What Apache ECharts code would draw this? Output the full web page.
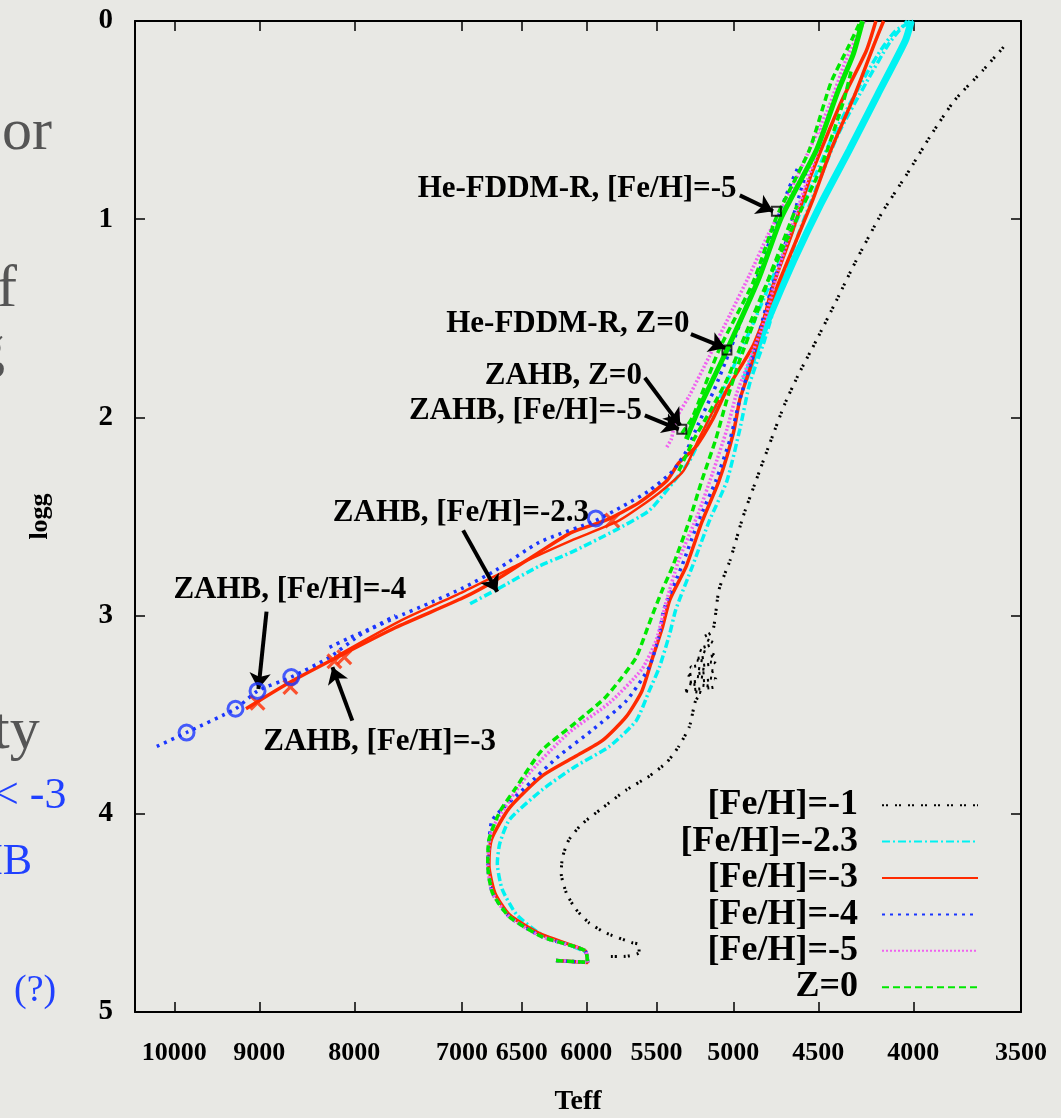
<!DOCTYPE html>
<html>
<head>
<meta charset="utf-8">
<script src="https://cdn.jsdelivr.net/npm/echarts@6/dist/echarts.min.js"></script>
<style>
html, body { margin: 0; padding: 0; background: #e8e8e4; }
#chart { width: 1061px; height: 1118px; }
</style>
</head>
<body>
<div id="chart"></div>
<script>
// Axis ticks
const teffTicks = [10000, 9000, 8000, 7000, 6500, 6000, 5500, 5000, 4500, 4000, 3500];
const loggTicks = [0, 1, 2, 3, 4, 5];

// Series names (legend order)
const names = ['[Fe/H]=-1', '[Fe/H]=-2.3', '[Fe/H]=-3', '[Fe/H]=-4', '[Fe/H]=-5', 'Z=0'];

// Evolutionary tracks, [Teff, logg]
const feh1Track = [
  [5820,4.72],[5730,4.72],[5620,4.70],[5620,4.66],[5670,4.65],[5860,4.60],[5980,4.55],[6080,4.48],
  [6150,4.40],[6190,4.30],[6180,4.22],[6130,4.13],[6030,4.05],[5880,3.97],[5710,3.88],[5550,3.81],
  [5430,3.74],[5350,3.66],[5280,3.56],[5240,3.43],
  [5200,3.39],[5310,3.38],[5120,3.36],[5300,3.34],[5110,3.32],[5290,3.30],[5120,3.28],[5270,3.26],
  [5110,3.24],[5250,3.22],[5120,3.20],[5220,3.17],[5120,3.14],[5190,3.11],[5130,3.08],
  [5090,2.87],[5020,2.72],[4940,2.50],[4840,2.27],[4770,2.11],[4690,1.93],[4610,1.78],[4510,1.61],
  [4400,1.41],[4300,1.22],[4160,0.97],[4030,0.77],[3910,0.57],[3800,0.40],[3670,0.25],[3560,0.11]
];

const feh23Track = [
  [6230,4.74],[5990,4.75],[6000,4.70],[6340,4.61],[6540,4.51],[6660,4.38],[6700,4.25],[6680,4.15],
  [6600,4.03],[6340,3.88],[6080,3.76],[5830,3.66],[5640,3.53],[5550,3.38],[5480,3.26],[5410,3.09],
  [5370,2.97],[5260,2.75],[5150,2.52],[5040,2.32],[4960,2.06],[4900,1.83],[4810,1.61],[4740,1.41],
  [4610,1.07],[4510,0.84],[4390,0.57],[4240,0.31],[4120,0.11],[4030,0.00]
];
const feh23HB = [
  [6930,2.94],[6710,2.87],[6360,2.75],[6110,2.68],[5790,2.57],[5550,2.47],[5390,2.33],[5280,2.22],
  [5180,2.06],[5090,1.91],[4980,1.71],[4870,1.51],[4770,1.31],[4670,1.11],[4550,0.85],[4430,0.60],
  [4300,0.37],[4180,0.17],[4090,0.05],[4000,0.00]
];
const feh23Band = [[4930,1.81],[4790,1.51],[4640,1.21],[4490,0.93],[4330,0.65],[4180,0.37],[4040,0.10],[4010,0.00]];

const feh3Track = [
  [6230,4.74],[5990,4.75],[6010,4.69],[6340,4.61],[6600,4.51],[6720,4.40],[6770,4.26],[6750,4.13],
  [6600,3.97],[6340,3.81],[6080,3.71],[5880,3.63],[5710,3.51],[5600,3.38],[5530,3.22],[5460,3.06],
  [5410,2.92],[5300,2.75],[5200,2.53],[5090,2.32],[5000,2.08],[4960,1.91],[4900,1.76],[4800,1.46],
  [4770,1.36],[4650,1.07],[4550,0.80],[4480,0.64],[4370,0.40],[4240,0.15],[4190,0.00]
];
const feh3HB = [
  [9150,3.47],[8680,3.34],[8250,3.23],[7600,3.06],[6990,2.91],[6710,2.82],[6360,2.68],[6110,2.58],
  [5860,2.52],[5620,2.43],[5430,2.32],[5350,2.23],[5240,2.15],[5130,2.01],[5040,1.86],[4880,1.64],
  [4770,1.41],[4650,1.16],[4530,0.90],[4430,0.65],[4300,0.37],[4200,0.12],[4150,0.00]
];
const feh3HB2 = [[8200,3.21],[7570,3.03],[6990,2.88],[6520,2.74],[6110,2.62],[5760,2.52],[5480,2.38],[5320,2.27],[5220,2.11],[5090,1.91]];
const feh3Zahb = [[9020,3.44],[8660,3.36],[8200,3.23],[8100,3.21],[5810,2.52]];

const feh4Track = [
  [6230,4.74],[5990,4.75],[6010,4.69],[6340,4.62],[6600,4.52],[6740,4.40],[6780,4.26],[6770,4.15],
  [6740,4.03],[6460,3.86],[6210,3.71],[5960,3.58],[5710,3.43],[5550,3.26],[5480,3.09],[5450,2.97],
  [5330,2.75],[5220,2.52],[5110,2.32],[5020,2.11],[4960,1.91],[4870,1.66],[4790,1.41],[4700,1.16],
  [4630,0.95],[4570,0.77]
];
const feh4HB = [
  [10220,3.66],[9850,3.59],[9270,3.47],[9020,3.38],[8650,3.31],[8250,3.21],[7920,3.09],[7600,3.01],
  [7300,2.94],[6990,2.86],[6710,2.77],[6360,2.63],[5930,2.52],[5740,2.45],[5550,2.37],[5390,2.27],
  [5300,2.17],[5220,2.03],[5120,1.86],[5020,1.66],[4930,1.46],[4840,1.26],[4760,1.06],[4670,0.85],[4610,0.73]
];
const feh4HB2 = [[8250,3.16],[8040,3.11],[7820,3.06],[7600,3.00]];
const feh4Zahb = [[9850,3.59],[9270,3.47],[9020,3.38],[8650,3.31],[5930,2.51]];

const feh5Track = [
  [6230,4.74],[5990,4.75],[6010,4.69],[6340,4.62],[6600,4.52],[6740,4.40],[6780,4.26],[6770,4.16],
  [6740,4.07],[6460,3.81],[6130,3.59],[5830,3.44],[5600,3.27],[5500,3.12],[5430,2.92],[5350,2.72],
  [5220,2.48],[5130,2.28],[5040,2.06],[4980,1.88],[4900,1.71],[4810,1.51],[4730,1.26],[4640,1.01],
  [4560,0.80],[4500,0.64],[4480,0.53]
];
const feh5HB = [
  [5430,2.15],[5400,2.11],[5370,2.01],[5280,1.89],[5150,1.69],[5020,1.48],[4900,1.28],[4790,1.08],
  [4670,0.88],[4550,0.65],[4440,0.43],[4350,0.20],[4250,0.00]
];

const z0Track = [
  [6230,4.74],[5990,4.75],[6010,4.69],[6340,4.62],[6600,4.52],[6740,4.40],[6780,4.26],[6770,4.13],
  [6680,3.99],[6560,3.88],[6340,3.68],[6080,3.54],[5870,3.42],[5750,3.32],[5640,3.21],[5540,3.02],
  [5460,2.87],[5390,2.75],[5280,2.52],[5200,2.32],[5110,2.11],[5040,1.91],[4960,1.71],[4870,1.51],
  [4790,1.31],[4700,1.11],[4620,0.93]
];
const z0HB1 = [[5330,2.08],[5260,2.00],[5090,1.66],[4880,1.32],[4740,0.99],[4550,0.65],[4430,0.31],[4330,0.12],[4270,0.00]];
const z0HB2 = [[5300,2.11],[5220,1.96],[5040,1.66],[4840,1.29],[4710,0.99],[4510,0.65],[4390,0.35],[4310,0.17],[4260,0.00]];
const z0HB3 = [[5350,2.27],[5250,2.11],[5140,1.96],[5040,1.81],[4930,1.59],[4790,1.31],[4640,1.03],[4490,0.75],[4360,0.40],[4320,0.25]];

// Marked model points (He-FDDM-R and ZAHB positions)
const modelMarks = [[4740,0.96],[5040,1.66],[5330,2.06]];

// Annotations: label text, label right edge, arrow tail, arrow head
const noteTexts = ['He-FDDM-R, [Fe/H]=-5', 'He-FDDM-R, Z=0', 'ZAHB, Z=0', 'ZAHB, [Fe/H]=-5',
                   'ZAHB, [Fe/H]=-2.3', 'ZAHB, [Fe/H]=-4', 'ZAHB, [Fe/H]=-3'];
const noteAnchors = [[4980,0.85],[5280,1.53],[5600,1.79],[5600,1.97],[5980,2.48],[7500,2.87],[6710,3.64]];
const arrowTails = [[4960,0.88],[5270,1.58],[5580,1.80],[5580,1.99],[6990,2.57],[8920,2.98],[8020,3.53]];
const arrowHeads = [[4760,0.96],[5050,1.65],[5340,2.04],[5350,2.06],[6700,2.88],[9010,3.37],[8220,3.26]];

const seriesStyle = {
  '[Fe/H]=-1':   { color: '#000000', width: 3,   type: [2, 2, 2, 7] },
  '[Fe/H]=-2.3': { color: '#00f2f2', width: 3.5, type: [8, 3, 2, 3] },
  '[Fe/H]=-3':   { color: '#ff2a00', width: 3.5, type: 'solid' },
  '[Fe/H]=-4':   { color: '#1a36ff', width: 3.5, type: [3, 5] },
  '[Fe/H]=-5':   { color: '#f060f0', width: 3.5, type: [2, 2] },
  'Z=0':         { color: '#00e800', width: 3.5, type: [7, 4] }
};

const serif = '"Liberation Serif", "Times New Roman", serif';

function track(name, data, over) {
  const s = seriesStyle[name];
  const ls = Object.assign({ color: s.color, width: s.width, type: s.type, cap: 'butt' }, over || {});
  return {
    type: 'line', name: name, data: data, symbol: 'none', showSymbol: false,
    smooth: 0.2, silent: true, lineStyle: ls, itemStyle: { color: s.color },
    emphasis: { disabled: true }
  };
}

function marks(name, data, symbol, size, itemStyle) {
  return {
    type: 'scatter', name: name, data: data, symbol: symbol, symbolSize: size,
    silent: true, itemStyle: itemStyle, emphasis: { disabled: true }, z: 5
  };
}

const crossPath = 'path://M0,1.4L1.4,0L5,3.6L8.6,0L10,1.4L6.4,5L10,8.6L8.6,10L5,6.4L1.4,10L0,8.6L3.6,5Z';

const series = [
  track('[Fe/H]=-1', feh1Track),
  track('[Fe/H]=-2.3', feh23Track),
  track('[Fe/H]=-2.3', feh23HB),
  track('[Fe/H]=-2.3', feh23Band, { type: 'solid', width: 7 }),
  track('[Fe/H]=-3', feh3Track),
  track('[Fe/H]=-3', feh3HB),
  track('[Fe/H]=-3', feh3HB2, { width: 2.5 }),
  track('[Fe/H]=-4', feh4Track),
  track('[Fe/H]=-4', feh4HB),
  track('[Fe/H]=-4', feh4HB2),
  track('[Fe/H]=-5', feh5Track),
  track('[Fe/H]=-5', feh5HB),
  track('Z=0', z0Track),
  track('Z=0', z0HB1),
  track('Z=0', z0HB2, { type: 'solid', width: 5 }),
  track('Z=0', z0HB3),
  marks('[Fe/H]=-3', feh3Zahb, crossPath, 16, { color: seriesStyle['[Fe/H]=-3'].color }),
  marks('[Fe/H]=-4', feh4Zahb, 'circle', 15,
        { color: 'rgba(0,0,0,0)', borderColor: seriesStyle['[Fe/H]=-4'].color, borderWidth: 3 }),
  Object.assign(marks('models', modelMarks, 'rect', 9,
        { color: 'rgba(0,0,0,0)', borderColor: '#000', borderWidth: 2 }), {
    markLine: {
      silent: true, animation: false,
      symbol: ['none', 'arrow'], symbolSize: 16,
      lineStyle: { color: '#000', width: 4, type: 'solid' },
      itemStyle: { color: '#000' },
      label: { show: false },
      emphasis: { disabled: true },
      data: arrowTails.map((t, i) => [{ coord: t }, { coord: arrowHeads[i] }])
    }
  })
];

const axisText = { fontFamily: serif, fontWeight: 'bold', color: '#000' };

function teffAxis(position, withLabels) {
  return {
    type: 'log', logBase: 10, min: 3500, max: 10500, inverse: true, position: position,
    axisLine: { show: true, onZero: false, lineStyle: { color: '#000', width: 2 } },
    axisTick: { show: true, inside: true, length: 10, customValues: teffTicks, lineStyle: { color: '#000', width: 1.5 } },
    axisLabel: withLabels ? Object.assign({
      show: true, customValues: teffTicks, fontSize: 26, margin: 28,
      formatter: v => String(Math.round(v))
    }, axisText) : { show: false },
    minorTick: { show: false }, splitLine: { show: false },
    name: withLabels ? 'Teff' : '', nameLocation: 'middle', nameGap: 76,
    nameTextStyle: Object.assign({ fontSize: 28 }, axisText)
  };
}

function loggAxis(position, withLabels) {
  return {
    type: 'value', min: 0, max: 5, interval: 1, inverse: true, position: position,
    axisLine: { show: true, onZero: false, lineStyle: { color: '#000', width: 2 } },
    axisTick: { show: true, inside: true, length: 10, lineStyle: { color: '#000', width: 1.5 } },
    axisLabel: withLabels ? Object.assign({ show: true, fontSize: 29, margin: 22 }, axisText) : { show: false },
    splitLine: { show: false },
    name: withLabels ? 'logg' : '', nameLocation: 'middle', nameGap: 82,
    nameTextStyle: Object.assign({ fontSize: 26 }, axisText)
  };
}

const chart = echarts.init(document.getElementById('chart'), null, { renderer: 'canvas' });

chart.setOption({
  backgroundColor: '#e8e8e4',
  animation: false,
  grid: { left: 135, right: 40, top: 21, bottom: 106, containLabel: false, outerBoundsMode: 'none' },
  xAxis: [teffAxis('bottom', true), teffAxis('top', false)],
  yAxis: [loggAxis('left', true), loggAxis('right', false)],
  legend: {
    orient: 'vertical', align: 'right', right: 77, top: 782,
    itemWidth: 96, itemHeight: 14, itemGap: 0,
    selectedMode: false, data: names,
    itemStyle: { opacity: 0 },
    textStyle: { fontFamily: serif, fontWeight: 'bold', fontSize: 36, color: '#000', lineHeight: 36.4, padding: [0, 19, 0, 0] }
  },
  series: series
});

// Annotation labels placed at data positions
const graphics = noteTexts.map((t, i) => {
  const p = chart.convertToPixel({ xAxisIndex: 0, yAxisIndex: 0 }, noteAnchors[i]);
  return {
    type: 'text', silent: true, z: 10,
    style: { text: t, x: p[0], y: p[1], align: 'right', verticalAlign: 'middle',
             font: 'bold 31px ' + serif, fill: '#000' }
  };
});

// Slide text showing at the left margin
const slideGray = '#555555', slideBlue = '#2040ff';
[
  ['or', 2, 133, 60, slideGray],
  ['f', -3, 290, 60, slideGray],
  ['g', -25, 350, 60, slideGray],
  ['ty', -7, 732, 60, slideGray],
  ['< -3', -6, 796, 44, slideBlue],
  ['HB', -29, 862, 44, slideBlue],
  ['(?)', 14, 991, 38, slideBlue]
].forEach(s => graphics.push({
  type: 'text', silent: true, z: 0,
  style: { text: s[0], x: s[1], y: s[2], align: 'left', verticalAlign: 'middle',
           font: s[3] + 'px ' + serif, fill: s[4] }
}));

chart.setOption({ graphic: graphics });
</script>
</body>
</html>
